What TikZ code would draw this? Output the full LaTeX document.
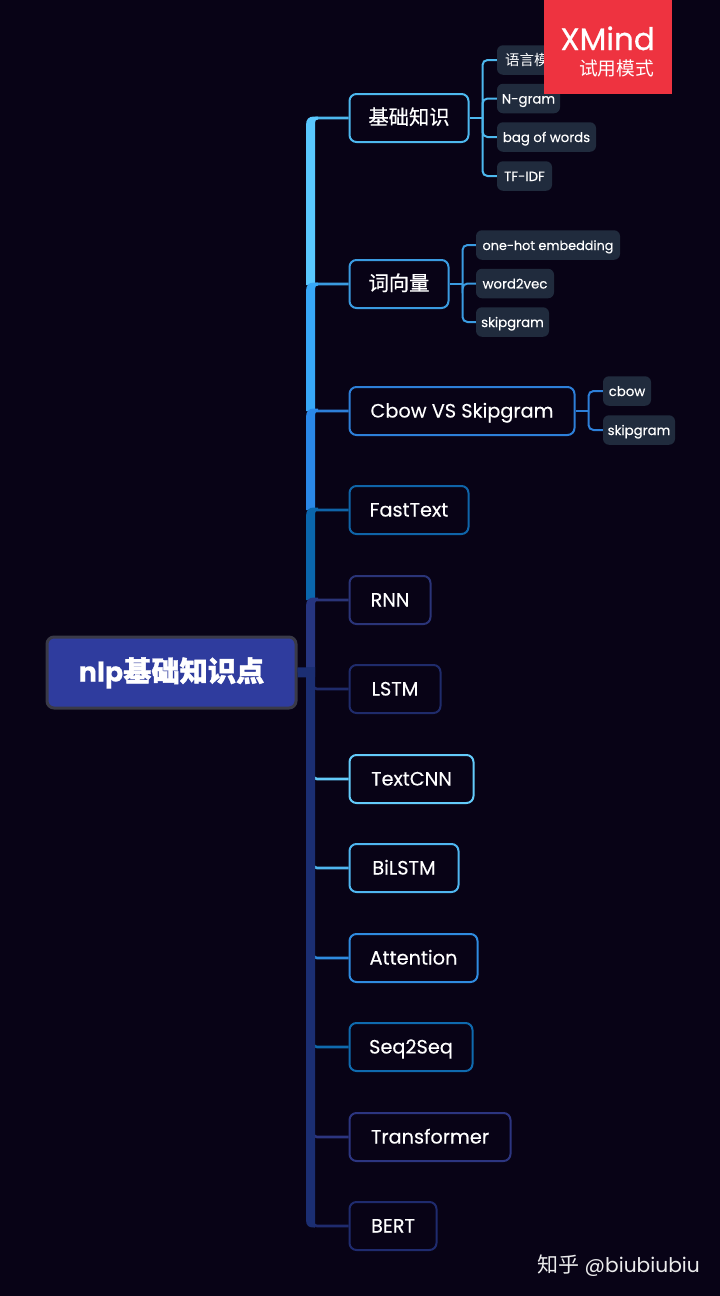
\documentclass[tikz,border=0pt]{standalone}
\usepackage{fontspec}
\setmainfont[FakeBold=0.25]{Poppins}
\newfontfamily\cjk[FakeBold=0.6]{Noto Sans CJK SC}
\newfontfamily\rootcjk[FakeBold=1.4]{Noto Sans CJK SC}
\newfontfamily\thincjk{Noto Sans CJK SC}
\newfontfamily\thinlat{Poppins}
\newfontfamily\wmfont[FakeBold=0.7]{Poppins}
\definecolor{bgc}{HTML}{080316}
\definecolor{subfill}{HTML}{202B3D}
\definecolor{cA}{HTML}{4DB8EE}
\definecolor{cB}{HTML}{3A9BE0}
\definecolor{cC}{HTML}{2D7FD8}
\definecolor{cD}{HTML}{0F64A8}
\definecolor{cE}{HTML}{2A3478}
\definecolor{cF}{HTML}{1F2B6B}
\definecolor{cG}{HTML}{63CBFA}
\definecolor{cH}{HTML}{4FB6F0}
\definecolor{cI}{HTML}{2F8BE0}
\definecolor{cJ}{HTML}{0F6AAE}
\definecolor{cK}{HTML}{2C3580}
\definecolor{cL}{HTML}{1F2B6E}
\definecolor{tA}{HTML}{5AC8FF}
\definecolor{tB}{HTML}{38A8F8}
\definecolor{tC}{HTML}{2A88E8}
\definecolor{tD}{HTML}{0A66AC}
\definecolor{tE}{HTML}{263580}
\definecolor{tF}{HTML}{1B2E72}
\definecolor{rootfill}{HTML}{2F3C9E}
\definecolor{rootline}{HTML}{3A3A48}
\definecolor{wm}{HTML}{EE3340}
\newcommand{\trunkseg}[3]{\fill[#1] (306,#3) -- (306,#2+7) .. controls (306,#2+1) and (309,#2-1.5) .. (314,#2-1.5) -- (318,#2-1.5) -- (318,#2+1.5) .. controls (316,#2+1.5) and (315,#2+2.5) .. (315,#2+5) -- (315,#3) -- cycle;}
\tikzset{
  x=1pt,y=-1pt,
  topic/.style={draw=#1,line width=2pt,fill=bgc,rounded corners=7pt,inner sep=0pt,minimum height=48pt,text height=13pt,text depth=0pt,text=white,font=\fontsize{19.3}{24}\selectfont},
  leaf/.style={fill=subfill,rounded corners=6pt,inner sep=0pt,minimum height=29.5pt,text height=10pt,text depth=0pt,text=white,font=\fontsize{13.3}{18}\selectfont},
  branch/.style={draw=#1,line width=2.6pt,rounded corners=4pt},
  twig/.style={draw=#1,line width=2pt,rounded corners=5pt},
  stub/.style={draw=#1,line width=2pt}
}
\begin{document}
\begin{tikzpicture}
\useasboundingbox (0,0) rectangle (720,1296);
\fill[bgc] (0,0) rectangle (720,1296);
% topics
\node[topic=cA,minimum width=119pt] (n1) at (409,118) {\fontsize{20.3}{24}\selectfont\cjk 基础知识};
\node[topic=cB,minimum width=99pt] (n2) at (399,284) {\fontsize{20.3}{24}\selectfont\cjk 词向量};
\node[topic=cC,minimum width=225pt] (n3) at (462,411) {Cbow VS Skipgram};
\node[topic=cD,minimum width=119pt] (n4) at (409,510) {FastText};
\node[topic=cE,minimum width=81pt] (n5) at (390,600) {RNN};
\node[topic=cF,minimum width=91pt] (n6) at (395,689) {LSTM};
\node[topic=cG,minimum width=124pt] (n7) at (411.5,779) {TextCNN};
\node[topic=cH,minimum width=109pt] (n8) at (404,868) {BiLSTM};
\node[topic=cI,minimum width=128pt] (n9) at (413.5,958) {Attention};
\node[topic=cJ,minimum width=123pt] (n10) at (411,1047) {Seq2Seq};
\node[topic=cK,minimum width=161pt] (n11) at (430,1137) {Transformer};
\node[topic=cL,minimum width=87pt] (n12) at (393,1226) {BERT};
% leaves
\node[leaf,minimum width=74pt] (a1) at (534,60) {\fontsize{14.5}{18}\selectfont\thincjk 语言模型};
\node[leaf,minimum width=63pt] (a2) at (528.5,98.5) {N-gram};
\node[leaf,minimum width=99pt] (a3) at (546.5,137) {bag of words};
\node[leaf,minimum width=55pt] (a4) at (524.5,176) {TF-IDF};
\node[leaf,minimum width=144pt] (b1) at (548,245) {\fontsize{12.8}{18}\selectfont one-hot embedding};
\node[leaf,minimum width=78pt] (b2) at (515,283.5) {word2vec};
\node[leaf,minimum width=73pt] (b3) at (512.5,322) {skipgram};
\node[leaf,minimum width=48pt] (c1) at (627,391) {cbow};
\node[leaf,minimum width=72pt] (c2) at (639,430) {skipgram};
% root
\node[draw=rootline,line width=3pt,fill=rootfill,rounded corners=7pt,inner sep=0pt,minimum width=249pt,minimum height=71pt,text height=18pt,text depth=0pt,text=white,font=\fontsize{27}{30}\selectfont\bfseries] (root) at (171.5,672.5) {nlp{\rootcjk\fontsize{28.2}{30}\selectfont 基础知识点}};
% twigs
\draw[stub=cA] (n1.east) -- ++(13,0) coordinate (j1);
\foreach \k in {a1,a2,a3,a4} \draw[twig=cA] (j1) |- (\k.west);
\draw[stub=cB] (n2.east) -- ++(13,0) coordinate (j2);
\foreach \k in {b1,b2,b3} \draw[twig=cB] (j2) |- (\k.west);
\draw[stub=cC] (n3.east) -- ++(13,0) coordinate (j3);
\foreach \k in {c1,c2} \draw[twig=cC] (j3) |- (\k.west);
% trunk joints
\coordinate (t1) at (312,126);
\coordinate (t2) at (312,292);
\coordinate (t3) at (312,419);
\coordinate (t4) at (312,518);
\coordinate (t5) at (312,608);
\coordinate (t6) at (313,681);
\coordinate (t7) at (313,771);
\coordinate (t8) at (313,860);
\coordinate (t9) at (313,950);
\coordinate (t10) at (313,1039);
\coordinate (t11) at (313,1129);
\coordinate (t12) at (313,1218);
\coordinate (tr) at (315,672);
\draw[branch=cA] (t1) |- (n1.west);
\draw[branch=cB] (t2) |- (n2.west);
\draw[branch=cC] (t3) |- (n3.west);
\draw[branch=cD] (t4) |- (n4.west);
\draw[branch=cE] (t5) |- (n5.west);
\draw[branch=cF] (t6) |- (n6.west);
\draw[branch=cG] (t7) |- (n7.west);
\draw[branch=cH] (t8) |- (n8.west);
\draw[branch=cI] (t9) |- (n9.west);
\draw[branch=cJ] (t10) |- (n10.west);
\draw[branch=cK] (t11) |- (n11.west);
\draw[branch=cL] (t12) |- (n12.west);
% trunk
\trunkseg{tA}{118}{285}
\trunkseg{tB}{284}{411}
\trunkseg{tC}{410}{510}
\trunkseg{tD}{509}{600}
\trunkseg{tE}{599}{672}
\fill[tF] (306,667) -- (315,667) -- (315,1227.5) -- (314,1227.5) .. controls (309,1227.5) and (306,1226) .. (306,1220) -- cycle;
\draw[line width=10pt,draw=tF] (root.east) -- (tr);
% watermark
\fill[wm] (544,0) rectangle (672,94);
\node[inner sep=0pt,text=white,font=\fontsize{31}{34}\selectfont\wmfont,anchor=base east] (wm1) at (655,50) {XMind};
\node[inner sep=0pt,text=white,font=\fontsize{18.7}{22}\selectfont\thincjk,anchor=base east] (wm2) at (654,75) {试用模式};
\node[inner sep=0pt,text=white!92!bgc,font=\fontsize{20.2}{24}\selectfont\thinlat,anchor=base east] (zh) at (700,1272) {{\thincjk\fontsize{21}{24}\selectfont 知乎} @biubiubiu};
\end{tikzpicture}
\end{document}
